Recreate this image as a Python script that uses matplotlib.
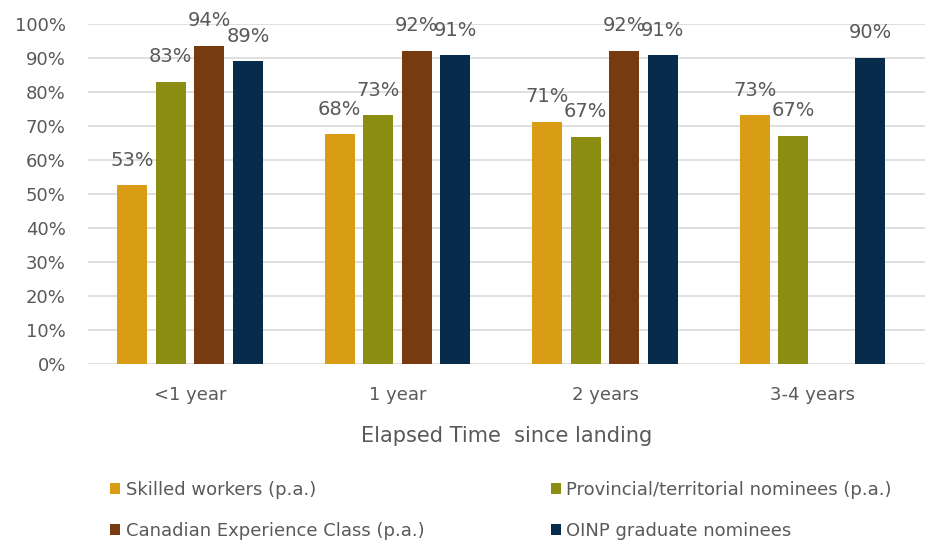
import numpy as np
import matplotlib.pyplot as plt

plt.rcParams['font.family'] = ['DejaVu Sans']

categories = ["<1 year", "1 year", "2 years", "3-4 years"]
series_names = ["Skilled workers (p.a.)", "Provincial/territorial nominees (p.a.)",
                "Canadian Experience Class (p.a.)", "OINP graduate nominees"]
skilled = [52.6, 67.6, 71.2, 73.1]
provincial = [83.0, 73.1, 66.8, 67.1]
cec = [93.6, 92.1, 92.2, np.nan]
oinp = [89.0, 90.8, 90.8, 90.1]
colors = ["#D99C15", "#8B8E13", "#783B0F", "#072B4B"]

values = [skilled, provincial, cec, oinp]
gray = "#595959"

fig = plt.figure(figsize=(9.25, 5.41), dpi=100)
ax = fig.add_axes([88/925, 1-364/541, 1-88/925, 340/541])

x = np.arange(len(categories))
width = 0.145
step = 0.186
handles = []
for i, (name, vals, col) in enumerate(zip(series_names, values, colors)):
    pos = x + (i - 1.5) * step
    h = ax.bar(pos, vals, width, color=col, label=name, zorder=3)
    handles.append(h)
    for px, v in zip(pos, vals):
        if np.isnan(v):
            continue
        ax.annotate(f"{v:.0f}%", (px, v), xytext=(0, 18), textcoords="offset points",
                    ha="center", va="center", fontsize=14, color=gray, zorder=4)

ax.set_ylim(0, 100)
ax.set_xlim(-0.4916, 3.542)
ax.set_yticks(range(0, 101, 10))
ax.set_yticklabels([f"{t}%" for t in range(0, 101, 10)])
ax.set_xticks(x)
ax.set_xticklabels(categories)
ax.yaxis.grid(True, color="#D9D9D9", linewidth=1.2, zorder=0)
for s in ax.spines.values():
    s.set_visible(False)
ax.tick_params(length=0, labelsize=13, labelcolor=gray)
ax.tick_params(axis="y", pad=16)
ax.tick_params(axis="x", pad=16)
ax.set_xlabel("Elapsed Time  since landing", fontsize=15, color=gray, labelpad=16)

# legend filled row by row like the original
order = [0, 2, 1, 3]
fig.legend([handles[k] for k in order], [series_names[k] for k in order],
           loc="upper left", bbox_to_anchor=(94/925, 1-465/541), ncol=2,
           frameon=False, fontsize=13, labelcolor=gray, handlelength=0.55,
           handleheight=0.55, handletextpad=0.3, columnspacing=7.0, labelspacing=1.25)

fig.savefig("out.png", dpi=100)
